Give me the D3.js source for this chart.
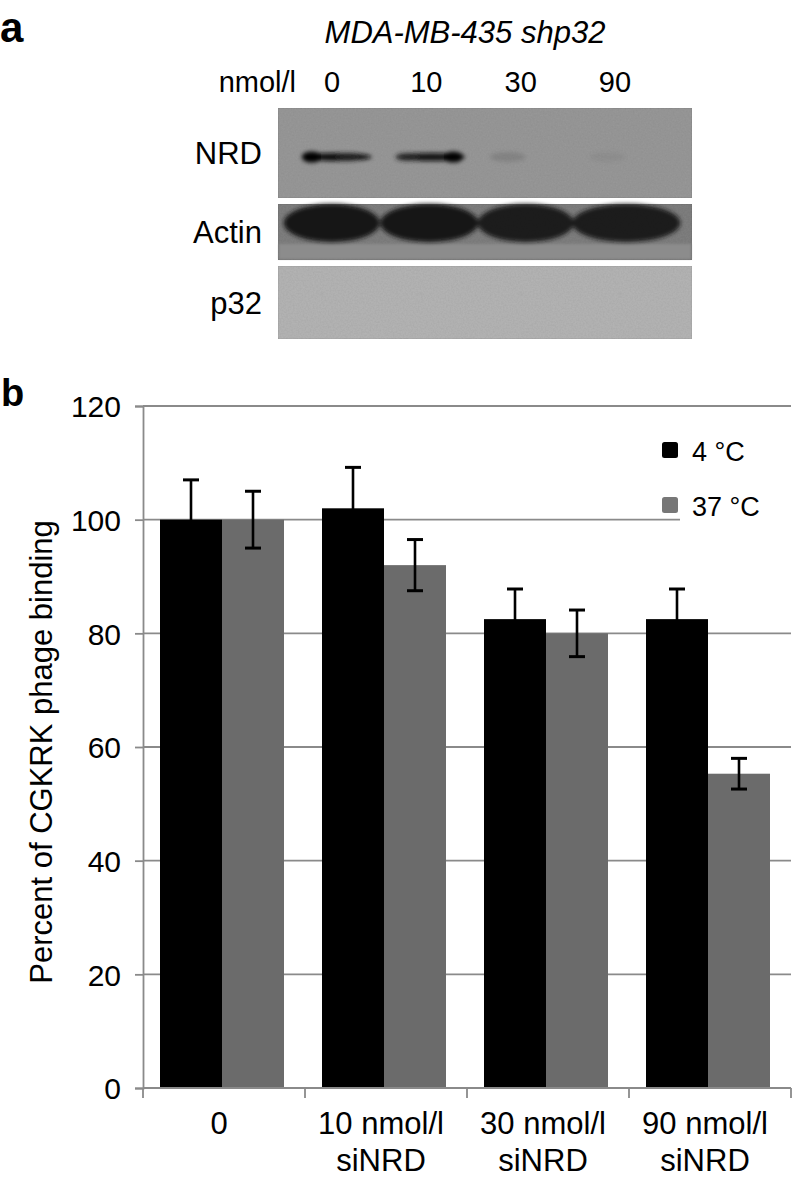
<!DOCTYPE html>
<html>
<head>
<meta charset="utf-8">
<script src="https://cdn.jsdelivr.net/npm/d3@7"></script>
<style>
  html, body { margin: 0; padding: 0; background: #fff; }
  svg { display: block; font-family: "Liberation Sans", Arial, Helvetica, sans-serif; }
</style>
</head>
<body>
<svg id="chart" width="796" height="1178"></svg>
<script>
// ---------------- data ----------------
// panel a: western blot
const blotTitle = "MDA-MB-435 shp32";
const blotUnit = "nmol/l";
const lanes = ["0", "10", "30", "90"];
const blotRows = ["NRD", "Actin", "p32"];
const nrdIntensity = [1.0, 0.95, 0.12, 0.05];
const actinIntensity = [1.0, 1.0, 0.95, 0.95];
const p32Intensity = [0, 0, 0, 0];

// panel b: bar chart
const categories = ["0", "10 nmol/l siNRD", "30 nmol/l siNRD", "90 nmol/l siNRD"];
const categoryLines = [["0"], ["10 nmol/l", "siNRD"], ["30 nmol/l", "siNRD"], ["90 nmol/l", "siNRD"]];
const series = ["4 °C", "37 °C"];
const values4C = [100, 102, 82.5, 82.5];
const errors4C = [7, 7.2, 5.3, 5.3];
const values37C = [100, 92, 80, 55.3];
const errors37C = [5, 4.5, 4.1, 2.7];
const yTicks = [0, 20, 40, 60, 80, 100, 120];
const yTitle = "Percent of CGKRK phage binding";
const seriesColors = ["#000000", "#6b6b6b"];

// ---------------- drawing ----------------
const svg = d3.select("#chart");
const defs = svg.append("defs");
defs.append("filter").attr("id", "blur2").attr("x", "-20%").attr("y", "-50%").attr("width", "140%").attr("height", "200%")
  .append("feGaussianBlur").attr("stdDeviation", 2);
defs.append("filter").attr("id", "blur1").append("feGaussianBlur").attr("stdDeviation", 1.2);
const noise = defs.append("filter").attr("id", "noise").attr("x", 0).attr("y", 0).attr("width", "100%").attr("height", "100%");
noise.append("feTurbulence").attr("type", "fractalNoise").attr("baseFrequency", 0.6).attr("numOctaves", 2).attr("seed", 3).attr("result", "t");
noise.append("feColorMatrix").attr("in", "t").attr("type", "matrix")
  .attr("values", "0 0 0 0 0  0 0 0 0 0  0 0 0 0 0  0 0 0 0.15 0").attr("result", "n");
noise.append("feComposite").attr("in", "n").attr("in2", "SourceGraphic").attr("operator", "in").attr("result", "nn");
const nm = noise.append("feMerge");
nm.append("feMergeNode").attr("in", "SourceGraphic");
nm.append("feMergeNode").attr("in", "nn");

// panel labels
svg.append("text").attr("x", 0).attr("y", 42).attr("font-size", 42).attr("font-weight", "bold").text("a");
svg.append("text").attr("x", 1).attr("y", 406).attr("font-size", 38).attr("font-weight", "bold").text("b");

// ---- blot ----
const blotX = d3.scaleBand().domain(lanes).range([283, 683]).padding(0.02);
const laneLabelX = d3.scalePoint().domain(lanes).range([332, 615]);
const rowY = d3.scaleOrdinal().domain(blotRows).range([[108, 198], [204, 260], [266, 339]]);
const rowBg = { "NRD": "#9a9a9a", "Actin": "#808080", "p32": "#b6b6b6" };

svg.append("text").attr("x", 465).attr("y", 43).attr("text-anchor", "middle")
  .attr("font-size", 31).attr("font-style", "italic").text(blotTitle);
svg.append("text").attr("x", 296).attr("y", 92).attr("text-anchor", "end").attr("font-size", 29).text(blotUnit);
svg.selectAll(".laneLabel").data(lanes).enter().append("text")
  .attr("x", d => laneLabelX(d)).attr("y", 92).attr("text-anchor", "middle").attr("font-size", 29).text(d => d);

const panelX0 = 278, panelX1 = 692;
blotRows.forEach(r => {
  const [y0, y1] = rowY(r);
  svg.append("rect").attr("x", panelX0).attr("y", y0).attr("width", panelX1 - panelX0).attr("height", y1 - y0)
    .attr("fill", rowBg[r]).attr("stroke", d3.color(rowBg[r]).darker(0.3)).attr("stroke-width", 1).attr("filter", "url(#noise)");
  svg.append("text").attr("x", 262).attr("y", (y0 + y1) / 2 + 11).attr("text-anchor", "end").attr("font-size", 31).text(r);
});
// actin lower lighter strip
{
  const [y0, y1] = rowY("Actin");
  svg.append("rect").attr("x", panelX0 + 1).attr("y", y0 + 40).attr("width", panelX1 - panelX0 - 2).attr("height", y1 - y0 - 41)
    .attr("fill", "#8c8c8c").attr("filter", "url(#blur1)");
}
// NRD bands
{
  const cy = 157;
  const g = svg.append("g").attr("filter", "url(#blur2)");
  lanes.forEach((l, i) => {
    const a = nrdIntensity[i];
    const cx = blotX(l) + blotX.bandwidth() / 2;
    const shift = [4, -2, -25, -25][i];
    const w = a > 0.5 ? 34 : 18;
    g.append("ellipse").attr("cx", cx + shift).attr("cy", cy).attr("rx", w).attr("ry", a > 0.5 ? 4 : 5)
      .attr("fill", "#111").attr("opacity", a);
    if (a > 0.5) {
      const endX = i === 0 ? cx + shift - 26 : cx + shift + 22;
      g.append("ellipse").attr("cx", endX).attr("cy", cy).attr("rx", 10).attr("ry", 5.5).attr("fill", "#000").attr("opacity", a);
      const otherX = i === 0 ? cx + shift + 10 : cx + shift - 24;
      g.append("ellipse").attr("cx", otherX).attr("cy", cy).attr("rx", 12).attr("ry", 4).attr("fill", "#222").attr("opacity", a * 0.8);
    }
  });
}
// Actin bands
{
  const [y0] = rowY("Actin");
  const g = svg.append("g").attr("filter", "url(#blur2)");
  lanes.forEach((l, i) => {
    const cx = blotX(l) + blotX.bandwidth() / 2 + [-2, -4, -7, -6][i];
    g.append("ellipse").attr("cx", cx).attr("cy", y0 + 19).attr("rx", [48, 49, 48, 54][i]).attr("ry", 19)
      .attr("fill", "#151515").attr("opacity", actinIntensity[i]);
  });
}
// p32 (no visible band) - faint specks
{
  const g = svg.append("g").attr("filter", "url(#blur1)");
  lanes.forEach((l, i) => {
    const cx = blotX(l) + blotX.bandwidth() / 2;
    g.append("circle").attr("cx", cx - 12).attr("cy", 294).attr("r", 1.5).attr("fill", "#999").attr("opacity", 0.3 + p32Intensity[i]);
  });
}

// ---- bar chart ----
const plotLeft = 143, plotRight = 791;
const y = d3.scaleLinear().domain([0, 120]).range([1088, 406]);
const x0 = d3.scaleBand().domain(categories).range([plotLeft, plotRight]).padding(0);
const groupOffset = 17;
const x1 = d3.scaleBand().domain(series).range([0, 124]).padding(0);
const axisColor = "#8a8a8a";

// gridlines
svg.append("g").selectAll("line").data(yTicks.filter(t => t > 0)).enter().append("line")
  .attr("x1", plotLeft).attr("x2", plotRight).attr("y1", d => y(d)).attr("y2", d => y(d))
  .attr("stroke", axisColor).attr("stroke-width", 1.8);

// legend background (hides gridline)
svg.append("rect").attr("x", 680).attr("y", 428).attr("width", 116).attr("height", 104).attr("fill", "#fff");

// bars
const seriesValues = [values4C, values37C];
const seriesErrors = [errors4C, errors37C];
const barData = [];
categories.forEach((c, i) => series.forEach((s, j) => barData.push({ c, s, j, v: seriesValues[j][i], e: seriesErrors[j][i] })));
const bx = d => x0(d.c) + groupOffset + x1(d.s);
svg.append("g").selectAll("rect").data(barData).enter().append("rect")
  .attr("x", bx).attr("y", d => y(d.v)).attr("width", x1.bandwidth()).attr("height", d => y(0) - y(d.v))
  .attr("fill", d => seriesColors[d.j]);

// error bars
const eb = svg.append("g").attr("stroke", "#000").attr("stroke-width", 2.6);
barData.forEach(d => {
  const cx = bx(d) + x1.bandwidth() / 2;
  eb.append("line").attr("x1", cx).attr("x2", cx).attr("y1", y(d.v + d.e)).attr("y2", y(d.v - d.e));
  eb.append("line").attr("x1", cx - 8).attr("x2", cx + 8).attr("y1", y(d.v + d.e)).attr("y2", y(d.v + d.e)).attr("stroke-width", 3);
  eb.append("line").attr("x1", cx - 8).attr("x2", cx + 8).attr("y1", y(d.v - d.e)).attr("y2", y(d.v - d.e)).attr("stroke-width", 3);
});

// y axis
const yAxis = svg.append("g").attr("transform", `translate(${plotLeft},0)`)
  .call(d3.axisLeft(y).tickValues(yTicks).tickSize(8).tickPadding(14).tickFormat(d3.format("d")));
yAxis.select(".domain").attr("stroke", axisColor).attr("stroke-width", 1.8);
yAxis.selectAll(".tick line").attr("stroke", axisColor).attr("stroke-width", 1.8);
yAxis.selectAll(".tick text").attr("font-size", 30).attr("fill", "#000").attr("font-family", "Liberation Sans, Arial, sans-serif").attr("dy", "0.36em");

// x axis
svg.append("line").attr("x1", plotLeft).attr("x2", plotRight).attr("y1", y(0)).attr("y2", y(0))
  .attr("stroke", axisColor).attr("stroke-width", 1.8);
const xTickPos = categories.map(c => x0(c)).concat([x0.range()[1]]);
svg.append("g").selectAll("line").data(xTickPos).enter().append("line")
  .attr("x1", d => d).attr("x2", d => d).attr("y1", y(0)).attr("y2", y(0) + 10)
  .attr("stroke", axisColor).attr("stroke-width", 1.8);
categories.forEach((c, i) => {
  const cx = x0(c) + groupOffset + 62 - 3;
  const t = svg.append("text").attr("text-anchor", "middle").attr("font-size", 31);
  categoryLines[i].forEach((line, k) => {
    t.append("tspan").attr("x", cx).attr("y", 1134 + k * 37).text(line);
  });
});

// y title
svg.append("text").attr("transform", "translate(52,752) rotate(-90)").attr("text-anchor", "middle")
  .attr("font-size", 31).text(yTitle);

// legend
const legend = svg.append("g");
series.forEach((s, j) => {
  const ly = [442, 497][j];
  legend.append("rect").attr("x", 662).attr("y", ly).attr("width", 16).attr("height", 16).attr("rx", 2.5)
    .attr("fill", j === 0 ? "#000" : "#777");
  legend.append("text").attr("x", 692).attr("y", ly + 19).attr("font-size", 27).text(s);
});
</script>
</body>
</html>
